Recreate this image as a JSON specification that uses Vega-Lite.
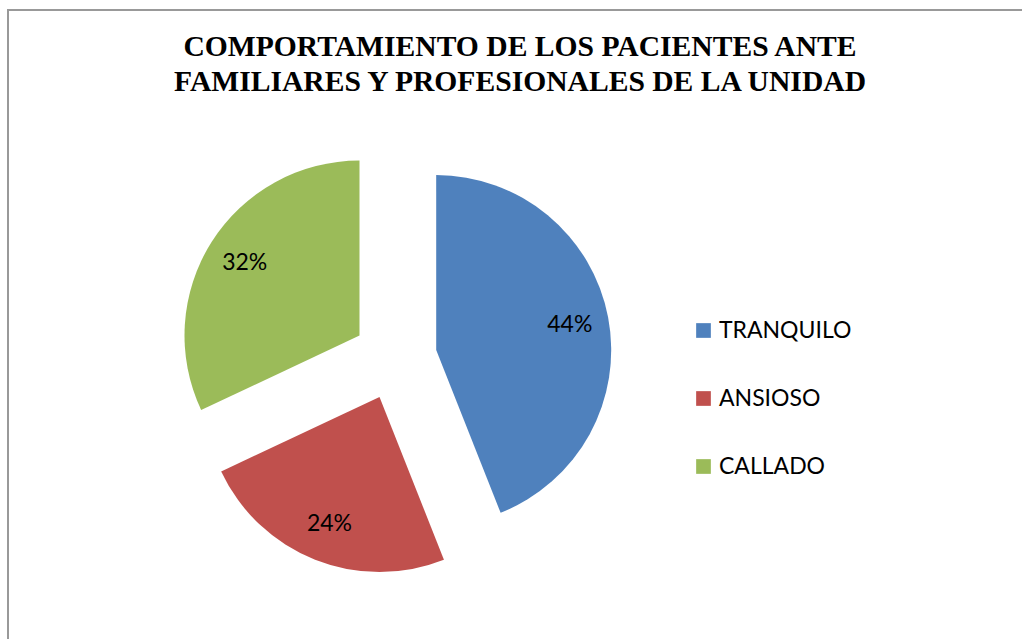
{
  "$schema": "https://vega.github.io/schema/vega-lite/v6.json",
  "autosize": "none",
  "width": 1020,
  "height": 636,
  "padding": {"left": 8, "top": 10, "right": 0, "bottom": 0},
  "background": "white",
  "view": {"stroke": "#999999", "strokeWidth": 2, "fill": "white"},
  "title": {
    "text": ["COMPORTAMIENTO DE LOS PACIENTES ANTE", "FAMILIARES Y PROFESIONALES DE LA UNIDAD"],
    "font": "Liberation Serif",
    "fontSize": 29.6,
    "fontWeight": "bold",
    "color": "black",
    "lineHeight": 35,
    "anchor": "middle",
    "frame": "group",
    "orient": "top",
    "baseline": "top",
    "offset": -88,
    "dx": 2
  },
  "data": {"values": [
    {"comportamiento": "TRANQUILO", "proporcion": 0.44},
    {"comportamiento": "ANSIOSO", "proporcion": 0.24},
    {"comportamiento": "CALLADO", "proporcion": 0.32}
  ]},
  "transform": [{"stack": "proporcion", "groupby": [], "as": ["inicio", "fin"]}],
  "layer": [
    {
      "transform": [{"filter": "datum.comportamiento === 'TRANQUILO'"}],
      "mark": {"type": "arc", "outerRadius": 175, "x": 387, "y": 348, "xOffset": 41.2, "yOffset": -7.9},
      "encoding": {
        "theta": {"field": "inicio", "type": "quantitative", "scale": {"domain": [0, 1]}},
        "theta2": {"field": "fin"},
        "color": {
          "field": "comportamiento", "type": "nominal",
          "scale": {"domain": ["TRANQUILO", "ANSIOSO", "CALLADO"], "range": ["#4F81BD", "#C0504D", "#9BBB59"]},
          "legend": {
            "title": null, "orient": "none", "legendX": 684, "legendY": 309,
            "symbolType": "square", "symbolSize": 216, "symbolStrokeWidth": 0,
            "labelFont": "Lato", "labelFontSize": 23, "labelColor": "black",
            "labelOffset": 4, "rowPadding": 44, "padding": 0
          }
        }
      }
    },
    {
      "transform": [{"filter": "datum.comportamiento === 'ANSIOSO'"}],
      "mark": {"type": "arc", "outerRadius": 175, "x": 387, "y": 348, "xOffset": -15.5, "yOffset": 39},
      "encoding": {
        "theta": {"field": "inicio", "type": "quantitative", "scale": {"domain": [0, 1]}},
        "theta2": {"field": "fin"},
        "color": {"field": "comportamiento", "type": "nominal"}
      }
    },
    {
      "transform": [{"filter": "datum.comportamiento === 'CALLADO'"}],
      "mark": {"type": "arc", "outerRadius": 175, "x": 387, "y": 348, "xOffset": -35.5, "yOffset": -22.5},
      "encoding": {
        "theta": {"field": "inicio", "type": "quantitative", "scale": {"domain": [0, 1]}},
        "theta2": {"field": "fin"},
        "color": {"field": "comportamiento", "type": "nominal"}
      }
    },
    {
      "mark": {"type": "text", "radius": 178, "x": 387, "y": 348, "font": "Lato", "fontSize": 23, "fill": "black", "align": "center", "baseline": "middle"},
      "encoding": {
        "theta": {"field": "proporcion", "type": "quantitative", "stack": true},
        "order": {"field": "inicio", "type": "quantitative", "sort": "ascending"},
        "text": {"field": "proporcion", "type": "quantitative", "format": ".0%"}
      }
    }
  ]
}
